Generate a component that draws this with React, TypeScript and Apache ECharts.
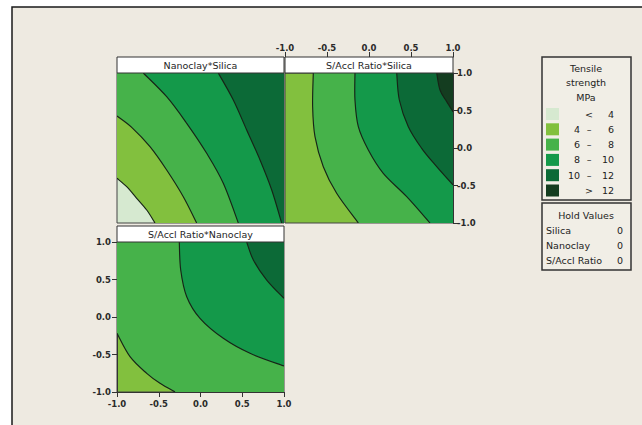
import React, { useEffect, useRef } from "react";
import * as echarts from "echarts";

// ---- data ----
const levelBreaks = [4, 6, 8, 10, 12];
const levelLow = ["", "4", "6", "8", "10", ""];
const levelSign = ["<", "–", "–", "–", "–", ">"];
const levelHigh = ["4", "6", "8", "10", "12", "12"];
const levelColors = ["#d6e9d0", "#82c03e", "#46b24a", "#14994a", "#0c6a37", "#143d20"];

const tickValues = [-1, -0.5, 0, 0.5, 1];
const tickLabels = ["-1.0", "-0.5", "0.0", "0.5", "1.0"];

const panelTitles = ["Nanoclay*Silica", "S/Accl Ratio*Silica", "S/Accl Ratio*Nanoclay"];
const legendTitle = ["Tensile", "strength", "MPa"];
const holdTitle = "Hold Values";
const holdFactors = ["Silica", "Nanoclay", "S/Accl Ratio"];
const holdValues = [0, 0, 0];

// contour lines (data coordinates), each bounding the next-higher level
const nanoclaySilicaBase = 0;
const nanoclaySilicaLines = [
  [[-1, -0.404], [-0.884, -0.516], [-0.764, -0.671], [-0.644, -0.827], [-0.545, -1]],
  [[-1, 0.427], [-0.824, 0.276], [-0.605, 0.018], [-0.405, -0.293], [-0.206, -0.649], [-0.046, -1]],
  [[-0.685, 1], [-0.405, 0.684], [-0.165, 0.329], [0.074, -0.071], [0.273, -0.471], [0.453, -1]],
  [[0.213, 1], [0.393, 0.64], [0.553, 0.24], [0.713, -0.16], [0.853, -0.56], [0.972, -1]],
];

const ratioSilicaBase = 1;
const ratioSilicaLines = [
  [[-0.663, 1], [-0.671, 0.551], [-0.643, 0.151], [-0.544, -0.249], [-0.385, -0.604], [-0.127, -1]],
  [[-0.167, 1], [-0.167, 0.64], [-0.127, 0.284], [-0.008, -0.027], [0.17, -0.338], [0.449, -0.649], [0.726, -1]],
  [[0.33, 1], [0.361, 0.64], [0.468, 0.284], [0.627, -0.004], [0.806, -0.249], [1, -0.493]],
  [[0.806, 1], [0.845, 0.773], [0.925, 0.618], [1, 0.484]],
];

const ratioNanoclayBase = 1;
const ratioNanoclayLines = [
  [[-1, -0.218], [-0.844, -0.529], [-0.644, -0.751], [-0.485, -0.884], [-0.305, -1]],
  [[-0.254, 1], [-0.237, 0.627], [-0.165, 0.271], [-0.006, -0.018], [0.273, -0.284], [0.593, -0.484], [1, -0.653]],
  [[0.553, 1], [0.633, 0.76], [0.793, 0.493], [1, 0.249]],
];

// ---- helpers ----
const FONT = "DejaVu Sans";

function perim(p: number[]): number {
  const [x, y] = p;
  if (y === -1) return x + 1;
  if (x === 1) return 2 + (y + 1);
  if (y === 1) return 4 + (1 - x);
  return 6 + (1 - y);
}

function cornersBetween(last: number[], first: number[]): number[][] {
  const sl = perim(last);
  const sf = perim(first);
  const d = (sf - sl + 8) % 8;
  const corners: [number, number[]][] = [
    [2, [1, -1]],
    [4, [1, 1]],
    [6, [-1, 1]],
    [0, [-1, -1]],
  ];
  return corners
    .map(([s, c]) => [((s - sl + 8) % 8), c] as [number, number[]])
    .filter(([dc]) => dc > 1e-9 && dc < d - 1e-9)
    .sort((a, b) => a[0] - b[0])
    .map(([, c]) => c);
}

function splinePath(p: number[][]): string {
  let d = `M${p[0][0]} ${p[0][1]}`;
  for (let i = 0; i < p.length - 1; i++) {
    const p0 = p[i - 1] || p[i];
    const p1 = p[i];
    const p2 = p[i + 1];
    const p3 = p[i + 2] || p[i + 1];
    const c1 = [p1[0] + (p2[0] - p0[0]) / 6, p1[1] + (p2[1] - p0[1]) / 6];
    const c2 = [p2[0] - (p3[0] - p1[0]) / 6, p2[1] - (p3[1] - p1[1]) / 6];
    d += ` C${c1[0]} ${c1[1]} ${c2[0]} ${c2[1]} ${p2[0]} ${p2[1]}`;
  }
  return d;
}

function makeRender(lines: number[][][], base: number) {
  return (params: any, api: any) => {
    const i = params.dataIndex;
    const pts = lines[i];
    const px = pts.map((p) => api.coord(p));
    const cs = cornersBetween(pts[pts.length - 1], pts[0]).map((p) => api.coord(p));
    const curve = splinePath(px);
    const fillD = curve + cs.map((c) => ` L${c[0]} ${c[1]}`).join("") + " Z";
    return {
      type: "group",
      children: [
        { type: "path", shape: { pathData: fillD }, style: { fill: levelColors[base + i + 1], stroke: null } },
        { type: "path", shape: { pathData: curve }, style: { fill: null, stroke: "#172417", lineWidth: 1.15 } },
      ],
    };
  };
}

const fmt = (v: number) => {
  const k = tickValues.findIndex((t) => Math.abs(t - v) < 1e-9);
  return k >= 0 ? tickLabels[k] : "";
};

const axisCommon = {
  type: "value",
  min: -1,
  max: 1,
  interval: 0.5,
  splitLine: { show: false },
  axisLine: { show: true, onZero: false, lineStyle: { color: "#333", width: 1 } },
  axisTick: { show: true, length: 5, lineStyle: { color: "#333" } },
  axisLabel: { formatter: fmt, fontFamily: FONT, fontSize: 8.5, fontWeight: "bold", color: "#2a2a2a" },
};

const hiddenAxis = { type: "value", min: -1, max: 1, show: false };

const grids = [
  { left: 117, top: 73, width: 167, height: 150 },
  { left: 285, top: 73, width: 168, height: 150 },
  { left: 117, top: 242, width: 167, height: 150 },
];

const TXT = `9.5px "${FONT}"`;

export default function App() {
  const ref = useRef<HTMLDivElement>(null);
  useEffect(() => {
    if (!ref.current) return;
    const chart = echarts.init(ref.current, null, { renderer: "svg" });

    const gridOpts = grids.map((g, k) => ({
      ...g,
      show: true,
      backgroundColor: levelColors[[nanoclaySilicaBase, ratioSilicaBase, ratioNanoclayBase][k]],
      borderColor: "#444",
      borderWidth: 1,
    }));

    const headerGraphics: any[] = grids.map((g, k) => ({
      type: "group",
      children: [
        {
          type: "rect",
          shape: { x: g.left, y: g.top - 16, width: g.width, height: 16 },
          style: { fill: "#ffffff", stroke: "#333", lineWidth: 1 },
          z: 10,
        },
        {
          type: "text",
          x: g.left + g.width / 2,
          y: g.top - 8,
          style: {
            text: panelTitles[k],
            fill: "#1e1e1e",
            font: TXT,
            align: "center",
            verticalAlign: "middle",
          },
          z: 11,
        },
      ],
    }));

    const legendX = 542;
    const legendGraphics: any[] = [
      {
        type: "rect",
        shape: { x: legendX, y: 57, width: 89, height: 143 },
        style: { fill: "#f1eee6", stroke: "#333", lineWidth: 1.5 },
      },
      ...legendTitle.map((t, i) => ({
        type: "text",
        x: 586,
        y: 68 + i * 14.5,
        style: { text: t, fill: "#222", font: TXT, align: "center", verticalAlign: "middle" },
      })),
      ...levelColors.map((c, i) => ({
        type: "group",
        children: [
          { type: "rect", shape: { x: 546, y: 108 + i * 15.3, width: 13, height: 12 }, style: { fill: c } },
          {
            type: "text",
            x: 580,
            y: 114 + i * 15.3,
            style: { text: levelLow[i], fill: "#222", font: TXT, align: "right", verticalAlign: "middle" },
          },
          {
            type: "text",
            x: 589,
            y: 114 + i * 15.3,
            style: { text: levelSign[i], fill: "#222", font: TXT, align: "center", verticalAlign: "middle" },
          },
          {
            type: "text",
            x: 614,
            y: 114 + i * 15.3,
            style: { text: levelHigh[i], fill: "#222", font: TXT, align: "right", verticalAlign: "middle" },
          },
        ],
      })),
      {
        type: "rect",
        shape: { x: legendX, y: 203, width: 89, height: 67 },
        style: { fill: "#f1eee6", stroke: "#333", lineWidth: 1.5 },
      },
      {
        type: "text",
        x: 586,
        y: 215,
        style: { text: holdTitle, fill: "#222", font: TXT, align: "center", verticalAlign: "middle" },
      },
      ...holdFactors.map((f, i) => ({
        type: "group",
        children: [
          {
            type: "text",
            x: 546,
            y: 230 + i * 15,
            style: { text: f, fill: "#222", font: TXT, align: "left", verticalAlign: "middle" },
          },
          {
            type: "text",
            x: 623,
            y: 230 + i * 15,
            style: { text: String(holdValues[i]), fill: "#222", font: TXT, align: "right", verticalAlign: "middle" },
          },
        ],
      })),
    ];

    const panels = [
      { lines: nanoclaySilicaLines, base: nanoclaySilicaBase },
      { lines: ratioSilicaLines, base: ratioSilicaBase },
      { lines: ratioNanoclayLines, base: ratioNanoclayBase },
    ];

    chart.setOption({
      animation: false,
      backgroundColor: "#ffffff",
      textStyle: { fontFamily: FONT },
      graphic: [
        {
          type: "rect",
          z: -100,
          zlevel: 0,
          shape: { x: 12, y: 7, width: 700, height: 500 },
          style: { fill: "#eeeae1", stroke: "#1a1a1a", lineWidth: 1.5 },
          silent: true,
        },
        ...headerGraphics,
        ...legendGraphics,
      ],
      grid: gridOpts,
      xAxis: [
        { ...hiddenAxis, gridIndex: 0 },
        {
          ...axisCommon,
          gridIndex: 1,
          position: "top",
          offset: 16,
          axisLabel: { ...axisCommon.axisLabel, margin: 5 },
        },
        { ...axisCommon, gridIndex: 2, position: "bottom", axisLabel: { ...axisCommon.axisLabel, margin: 7 } },
      ],
      yAxis: [
        { ...hiddenAxis, gridIndex: 0 },
        { ...axisCommon, gridIndex: 1, position: "right", axisLabel: { ...axisCommon.axisLabel, margin: 4 } },
        { ...axisCommon, gridIndex: 2, position: "left", axisLabel: { ...axisCommon.axisLabel, margin: 6 } },
      ],
      series: panels.map((p, k) => ({
        type: "custom",
        xAxisIndex: k,
        yAxisIndex: k,
        clip: true,
        silent: true,
        renderItem: makeRender(p.lines, p.base),
        data: p.lines.map(() => [0, 0]),
        z: 2,
      })),
    });
    return () => chart.dispose();
  }, []);

  return (
    <div
      ref={ref}
      style={{ position: "fixed", left: 0, top: 0, width: 642, height: 425 }}
    />
  );
}
